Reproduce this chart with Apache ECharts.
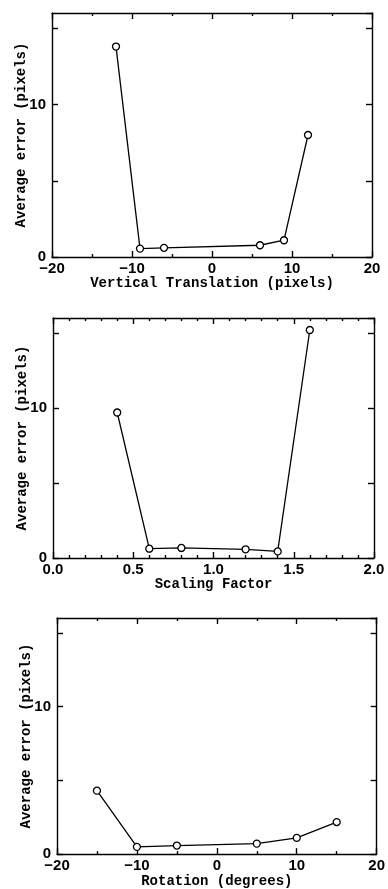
<!DOCTYPE html>
<html>
<head>
<meta charset="utf-8">
<script src="https://cdn.jsdelivr.net/npm/echarts@6/dist/echarts.min.js"></script>
<style>
  html, body { margin: 0; padding: 0; background: #fff; }
  #chart { width: 388px; height: 889px; }
</style>
</head>
<body>
<div id="chart"></div>
<script>
// values
const transX = [-12, -9, -6, 6, 9, 12]
const transErr = [13.8, 0.55, 0.6, 0.77, 1.1, 8.0]
const scaleX = [0.4, 0.6, 0.8, 1.2, 1.4, 1.6]
const scaleErr = [9.7, 0.62, 0.67, 0.58, 0.44, 15.2]
const rotX = [-15, -10, -5, 5, 10, 15]
const rotErr = [4.3, 0.49, 0.58, 0.71, 1.1, 2.17]

const xNames = ['Vertical Translation (pixels)', 'Scaling Factor', 'Rotation (degrees)']
const yName = 'Average error (pixels)'
const yLabels = [0, 10]

const chart = echarts.init(document.getElementById('chart'))

const nameFont = { fontFamily: 'Liberation Mono', fontWeight: 'bold', fontSize: 14, color: '#000' }
const tickFont = { fontFamily: 'Liberation Sans', fontWeight: 'bold', fontSize: 15, color: '#000' }
const line = { lineStyle: { color: '#000', width: 1.4 } }

const grids = [
  { left: 52, right: 16, top: 13, height: 244 },
  { left: 53, right: 14, top: 318, height: 240 },
  { left: 57, right: 11, top: 618, height: 241 }
]

const xRanges = [
  { min: -20, max: 20, interval: 10, minor: 2, fmt: v => String(v).replace('-', '\u2212') },
  { min: 0, max: 2, interval: 0.5, minor: 5, fmt: v => v.toFixed(1) },
  { min: -20, max: 20, interval: 10, minor: 2, fmt: v => String(v).replace('-', '\u2212') }
]

const seriesData = [
  transX.map((x, i) => [x, transErr[i]]),
  scaleX.map((x, i) => [x, scaleErr[i]]),
  rotX.map((x, i) => [x, rotErr[i]])
]

const xAxis = []
const yAxis = []
const series = []

grids.forEach((g, i) => {
  const r = xRanges[i]
  // bottom axis with labels and name
  xAxis.push({
    type: 'value', gridIndex: i, position: 'bottom',
    min: r.min, max: r.max, interval: r.interval,
    name: xNames[i], nameLocation: 'middle', nameGap: 16, nameTextStyle: nameFont,
    axisLine: { show: true, onZero: false, ...line },
    axisTick: { show: true, inside: true, length: 6, ...line },
    minorTick: { show: true, splitNumber: r.minor, length: 3, ...line },
    axisLabel: { ...tickFont, margin: 4, formatter: r.fmt },
    splitLine: { show: false }
  })
  // top frame
  xAxis.push({
    type: 'value', gridIndex: i, position: 'top',
    min: r.min, max: r.max, interval: r.interval,
    axisLine: { show: true, onZero: false, ...line },
    axisTick: { show: true, inside: true, length: 6, ...line },
    minorTick: { show: true, splitNumber: r.minor, length: 3, ...line },
    axisLabel: { show: false },
    splitLine: { show: false }
  })
  yAxis.push({
    type: 'value', gridIndex: i, position: 'left',
    min: 0, max: 16, interval: 5,
    name: yName, nameLocation: 'middle', nameGap: 24, nameRotate: 90,
    nameMoveOverlap: false, nameTextStyle: nameFont,
    axisLine: { show: true, onZero: false, ...line },
    axisTick: { show: true, inside: true, length: 6, ...line },
    axisLabel: {
      ...tickFont, margin: 6, showMaxLabel: false,
      formatter: v => (yLabels.includes(v) ? String(v) : '')
    },
    splitLine: { show: false }
  })
  yAxis.push({
    type: 'value', gridIndex: i, position: 'right',
    min: 0, max: 16, interval: 5,
    axisLine: { show: true, onZero: false, ...line },
    axisTick: { show: true, inside: true, length: 6, ...line },
    axisLabel: { show: false },
    splitLine: { show: false }
  })
  series.push({
    type: 'line',
    xAxisIndex: i * 2,
    yAxisIndex: i * 2,
    data: seriesData[i],
    symbol: 'circle',
    symbolSize: 7,
    lineStyle: { color: '#000', width: 1.3 },
    itemStyle: { color: '#fff', borderColor: '#000', borderWidth: 1.3 },
    animation: false
  })
})

const option = {
  backgroundColor: '#fff',
  animation: false,
  grid: grids,
  xAxis,
  yAxis,
  series
}

chart.setOption(option)
</script>
</body>
</html>
